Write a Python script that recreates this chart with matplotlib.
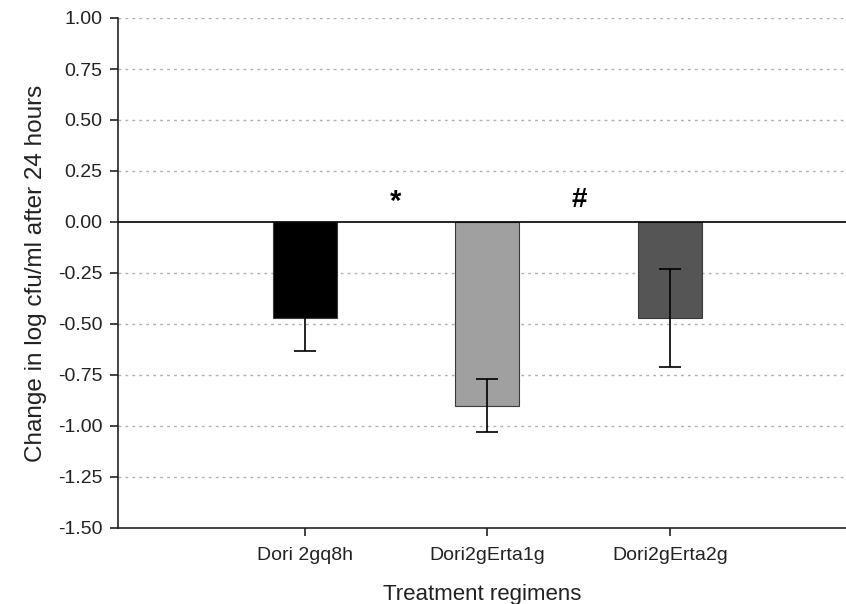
import matplotlib
matplotlib.use('Agg')
import matplotlib.pyplot as plt
import numpy as np

plt.rcParams['font.family'] = ['Liberation Sans', 'DejaVu Sans']

regimens = ['Dori 2gq8h', 'Dori2gErta1g', 'Dori2gErta2g']
change = [-0.47, -0.90, -0.47]
sem = [0.16, 0.13, 0.24]
colours = ['#000000', '#a0a0a0', '#555555']
yticks = [1.00, 0.75, 0.50, 0.25, 0.00, -0.25, -0.50, -0.75, -1.00, -1.25, -1.50]

fig = plt.figure(figsize=(8.46, 6.04), dpi=100)
ax = fig.add_axes([118 / 846, 76 / 604, 1 - 118 / 846, 510 / 604])

x = np.arange(len(regimens))
ax.bar(x, change, width=0.35, color=colours, edgecolor='#3a3a3a', linewidth=0.8, zorder=3)
ax.errorbar(x, change, yerr=sem, fmt='none', ecolor='black', elinewidth=1.2,
            capsize=8, capthick=1.2, zorder=4)

ax.axhline(0, color='black', linewidth=1.2, zorder=5)
for t in yticks:
    if t not in (0.0, -1.50):
        ax.axhline(t, color='#b0b0b0', linewidth=1, linestyle=(0, (2, 3)), zorder=1)

# significance markers between the bars
ax.text(0.5, 0.10, '*', fontsize=21, fontweight='bold', ha='center', va='center')
ax.text(1.5, 0.11, '#', fontsize=20, fontweight='bold', ha='center', va='center')

ax.set_xlim(-1.02, 2.96)
ax.set_ylim(-1.5, 1.0)
ax.set_yticks(yticks)
ax.set_yticklabels(['%.2f' % t for t in yticks])
ax.set_xticks(x)
ax.set_xticklabels(regimens)
ax.tick_params(axis='both', labelsize=14, length=6, width=1.2, color='#222222',
               labelcolor='#222222')
ax.tick_params(axis='x', pad=8)
ax.tick_params(axis='y', pad=5)

for side in ['top', 'right']:
    ax.spines[side].set_visible(False)
for side in ['left', 'bottom']:
    ax.spines[side].set_linewidth(1.2)
    ax.spines[side].set_color('#222222')

ax.set_xlabel('Treatment regimens', fontsize=16, labelpad=14, color='#222222')
ax.set_ylabel('Change in log cfu/ml after 24 hours', fontsize=17.5, labelpad=8,
              color='#222222')

fig.savefig('out.png', dpi=100)
